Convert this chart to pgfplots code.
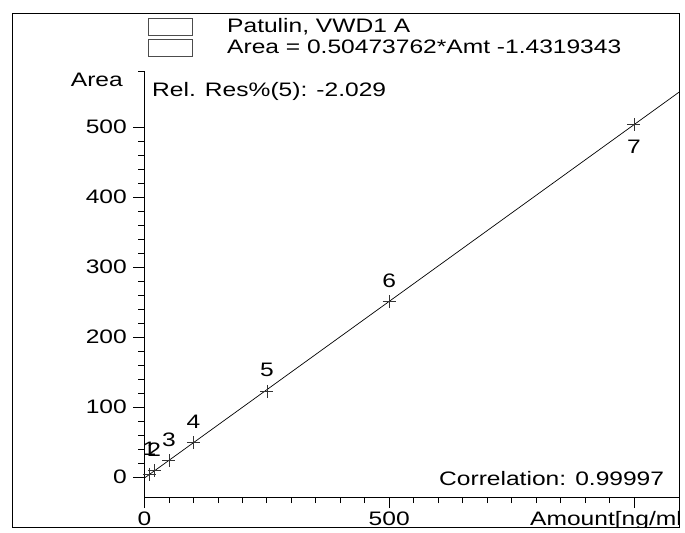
\documentclass[border=0pt]{standalone}
\usepackage{fontspec}
\setmainfont{Liberation Sans}
\usepackage{graphicx}
\usepackage{pgfplots}
\pgfplotsset{compat=1.18}
\newcommand\fsz{\fontsize{19.5}{22}\selectfont}
\newcommand\T[1]{\scalebox{1.26}[1]{#1}}
\begin{document}
\fsz
\begin{tikzpicture}[x=1pt,y=1pt]
\path[fill=white] (0,0) rectangle (685,529);
% outer frame
\draw[line width=1pt] (12,2) rectangle (679,515);
% legend boxes
\draw[line width=0.8pt, black!70] (148,511) rectangle (192,494);
\draw[line width=0.8pt, black!70] (148,490) rectangle (192,473);
\node[anchor=base west, inner sep=0pt] at (227,496) {\T{Patulin, VWD1 A}};
\node[anchor=base west, inner sep=0pt] at (227,475) {\T{Area = 0.50473762*Amt -1.4319343}};
\node[anchor=base west, inner sep=0pt] at (152,432) {\T{Rel. Res\%(5): -2.029}};
\node[anchor=base east, inner sep=0pt] at (123,442) {\T{Area}};
\node[anchor=base west, inner sep=0pt] at (439,44) {\T{Correlation: 0.99997}};
\begin{scope}
\clip (12,2) rectangle (679,515);
\node[anchor=base west, inner sep=0pt] at (530,4) {\T{Amount[ng/ml]}};
\end{scope}
\begin{axis}[
  at={(144.5pt,32pt)}, anchor=south west,
  scale only axis, width=534.5pt, height=426pt,
  xmin=0, xmax=1092, ymin=-28.57, ymax=580,
  axis x line=bottom, axis y line=left,
  axis line style={-, line width=0.8pt},
  tick align=outside,
  major tick length=11pt, minor tick length=6pt,
  every tick/.style={black, line width=0.8pt},
  xtick={0,500,1000}, xticklabels={\T{0},\T{500},{}},
  xticklabel style={yshift=3pt},
  minor x tick num=9,
  ytick={0,100,200,300,400,500},
  yticklabels={\T{0},\T{100},\T{200},\T{300},\T{400},\T{500}},
  minor y tick num=4,
  extra y ticks={580}, extra y tick labels={},
  extra y tick style={major tick length=6pt},
]
\addplot[black, line width=0.7pt] coordinates {(0,-1.4319343) (1092,549.74)};
\addplot[only marks, mark=+, mark size=6.5pt, black!80, mark options={line width=0.7pt}]
  coordinates {(10,3.9) (20,9.2) (50,23.2) (100,48.8) (250,122.2) (500,250.5) (1000,503.5)};
\node at (axis cs:10,3.9) [yshift=25pt] {\T{1}};
\node at (axis cs:20,9.2) [yshift=21pt] {\T{2}};
\node at (axis cs:50,23.2) [yshift=21pt] {\T{3}};
\node at (axis cs:100,48.8) [yshift=21pt] {\T{4}};
\node at (axis cs:250,122.2) [yshift=22pt] {\T{5}};
\node at (axis cs:500,250.5) [yshift=21pt] {\T{6}};
\node at (axis cs:1000,503.5) [yshift=-22pt] {\T{7}};
\end{axis}
\end{tikzpicture}
\end{document}
